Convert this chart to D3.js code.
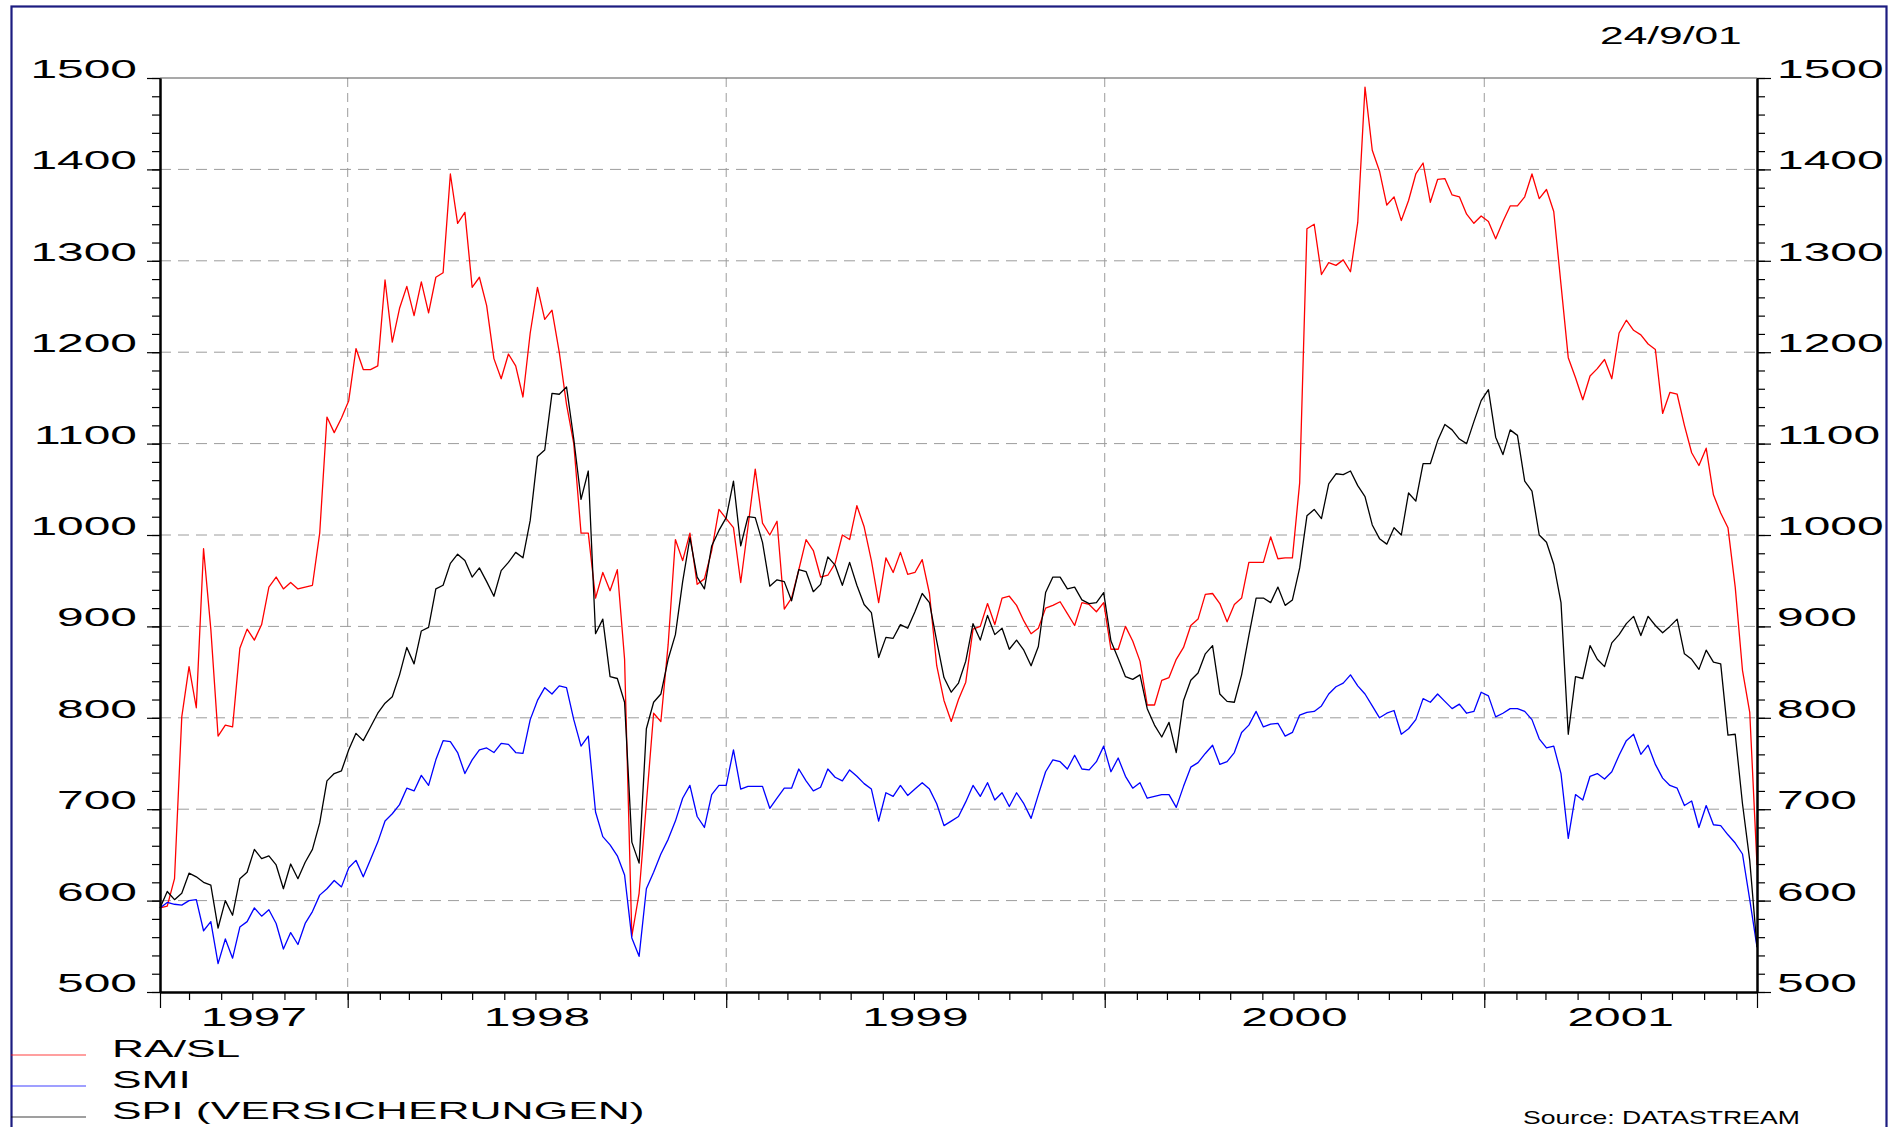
<!DOCTYPE html>
<html><head><meta charset="utf-8">
<script src="https://cdn.jsdelivr.net/npm/d3@7"></script>
<style>
body{margin:0;background:#fff;}
svg{display:block;}
text{font-family:"Liberation Sans",Arial,Helvetica,sans-serif;fill:#000;}
</style>
</head><body>
<svg id="chart" width="1897" height="1127"></svg>
<script>
// ---- data ----
const seriesNames = ["RA/SL", "SMI", "SPI (VERSICHERUNGEN)"];
const seriesColors = ["#ff0000", "#0000ff", "#000000"];
const firstWeek = "1997-07-04";   // weekly observations (Fridays)
const weekCount = 221;
const yTickValues = [500, 600, 700, 800, 900, 1000, 1100, 1200, 1300, 1400, 1500];
const yearLabels = ["1997", "1998", "1999", "2000", "2001"];
const dateStamp = "24/9/01";
const sourceText = "Source: DATASTREAM";

const raSl = [592,594,624,801,856,811,985,897,780,792,790,876,897,885,902,943,954,941,948,941,
943,945,1002,1129,1112,1128,1147,1204,1181,1181,1185,1279,1211,1248,1272,1240,1277,1243,1282,1287,
1395,1341,1353,1271,1282,1251,1193,1171,1198,1185,1151,1221,1271,1236,1246,1200,1143,1100,1002,1002,
931,959,939,962,864,561,608,706,805,796,880,995,972,1002,946,952,983,1028,1018,1008,
948,1009,1072,1013,1000,1015,919,931,962,995,983,954,956,969,1000,995,1032,1009,972,926,
975,959,981,957,959,973,936,857,819,796,820,839,897,900,925,902,931,933,923,906,
892,898,920,923,927,914,901,926,924,916,926,875,875,900,884,862,814,814,841,844,
864,877,901,908,935,936,925,905,924,931,970,970,970,998,974,975,975,1057,1335,1340,
1285,1298,1295,1301,1288,1342,1490,1421,1398,1361,1370,1344,1366,1395,1407,1364,1389,1390,1372,1370,
1351,1341,1349,1343,1324,1343,1360,1360,1370,1395,1368,1378,1354,1274,1194,1172,1148,1174,1182,1192,
1171,1221,1235,1224,1219,1209,1203,1133,1156,1154,1120,1090,1076,1095,1044,1024,1008,943,852,806,639];

const smi = [592,598,596,595,600,601,567,577,531,558,537,571,577,592,583,590,575,547,565,552,
575,588,606,613,622,615,636,644,626,645,664,687,695,705,723,720,737,726,754,775,
774,762,739,754,765,767,762,772,771,762,761,798,819,833,826,835,833,798,769,780,
697,670,661,649,628,559,539,613,631,651,667,687,712,726,692,680,716,726,726,765,
722,725,725,725,701,712,723,723,744,731,720,724,744,735,731,743,736,728,722,687,
718,714,726,715,722,729,722,706,682,687,692,708,726,714,729,710,718,703,718,706,
690,716,741,754,752,744,759,744,743,752,769,741,756,736,723,729,712,714,716,716,
702,725,746,751,761,770,749,752,762,784,792,807,790,793,794,780,784,803,806,807,
813,826,834,838,847,835,826,813,800,805,808,782,788,798,821,817,826,818,810,815,
805,807,828,824,801,805,810,810,807,798,777,767,769,739,668,716,710,736,739,733,
741,759,775,782,760,770,749,734,726,723,704,709,680,704,683,682,672,663,651,601,549];

const spiIns = [592,610,601,608,630,626,620,617,570,600,584,624,631,656,646,649,639,613,640,624,
642,656,685,731,739,742,765,783,775,790,805,816,823,847,877,859,895,899,941,945,
969,979,972,954,964,949,933,961,970,981,975,1016,1086,1093,1155,1154,1162,1105,1039,1070,
892,908,845,843,817,664,641,788,817,826,864,891,949,997,954,941,988,1005,1019,1059,
988,1020,1019,992,944,951,949,928,962,960,938,946,976,967,945,970,945,924,915,866,
888,887,902,898,916,936,926,884,844,828,838,862,903,885,912,891,898,875,885,874,
857,878,937,954,954,941,943,929,925,926,937,884,865,845,842,847,810,792,779,795,
762,819,841,849,870,879,826,818,817,847,890,931,931,926,943,923,929,964,1021,1028,
1018,1056,1067,1066,1070,1054,1042,1011,996,990,1008,1000,1046,1037,1078,1078,1103,1121,1115,1105,
1100,1124,1147,1159,1107,1088,1115,1109,1059,1048,1000,992,968,926,782,845,843,879,864,856,
882,891,903,911,890,911,901,893,900,908,870,864,853,874,861,859,781,782,706,644,549];

const seriesValues = [raSl, smi, spiIns];

// ---- build ----
const parse = d3.timeParse("%Y-%m-%d");
const start = parse(firstWeek);
const dates = d3.range(weekCount).map(i => d3.timeDay.offset(start, 7 * i));

const W = 1897, H = 1127;
const PL = 160, PR = 1757, PT = 78, PB = 992;
const svg = d3.select("#chart");
svg.append("rect").attr("width", W).attr("height", H).attr("fill", "#fff");

const x = d3.scaleTime().domain([dates[0], dates[dates.length - 1]]).range([PL, PR]);
const y = d3.scaleLinear().domain([500, 1500]).range([PB, PT]);

const TX = 1.88; // horizontal stretch of original lettering
function stext(g, px, py, str, size, sx, anchor) {
  return g.append("text")
    .attr("transform", `translate(${px},${py}) scale(${sx},1)`)
    .attr("text-anchor", anchor)
    .style("font-size", size + "px")
    .text(str);
}

// outer frame
svg.append("rect").attr("x", 11.5).attr("y", 6.5).attr("width", 1875).attr("height", 1200)
  .attr("fill", "none").attr("stroke", "#1c1c80").attr("stroke-width", 2.2);

// gridlines
const grid = svg.append("g");
grid.selectAll("line.h").data(yTickValues.filter(v => v > 500 && v < 1500)).join("line")
  .attr("x1", PL).attr("x2", PR).attr("y1", d => y(d)).attr("y2", d => y(d))
  .attr("stroke", "#9c9c9c").attr("stroke-width", 1).attr("stroke-dasharray", "11,7");
const yearStarts = d3.timeYear.range(d3.timeYear.ceil(x.domain()[0]), x.domain()[1]);
grid.selectAll("line.v").data(yearStarts).join("line")
  .attr("x1", d => x(d)).attr("x2", d => x(d)).attr("y1", PT).attr("y2", PB)
  .attr("stroke", "#9c9c9c").attr("stroke-width", 1).attr("stroke-dasharray", "9,6");

// series
const line = d3.line().x((d, i) => x(dates[i])).y(d => y(d));
seriesValues.forEach((vals, k) => {
  svg.append("path").datum(vals).attr("d", line)
    .attr("fill", "none").attr("stroke", seriesColors[k]).attr("stroke-width", 1.3)
    .attr("stroke-linejoin", "round");
});

// plot box
svg.append("line").attr("x1", PL).attr("x2", PR).attr("y1", PT).attr("y2", PT)
  .attr("stroke", "#555").attr("stroke-width", 1.2);

// y axes (ticks)
const minorY = d3.range(500, 1501, 20);
const axL = svg.append("g").attr("transform", `translate(${PL},0)`)
  .call(d3.axisLeft(y).tickValues(minorY).tickSize(8).tickFormat("").tickSizeOuter(0));
const axL2 = svg.append("g").attr("transform", `translate(${PL},0)`)
  .call(d3.axisLeft(y).tickValues(yTickValues).tickSize(13).tickFormat("").tickSizeOuter(0));
const axR = svg.append("g").attr("transform", `translate(${PR},0)`)
  .call(d3.axisRight(y).tickValues(minorY).tickSize(8).tickFormat("").tickSizeOuter(0));
const axR2 = svg.append("g").attr("transform", `translate(${PR},0)`)
  .call(d3.axisRight(y).tickValues(yTickValues).tickSize(14).tickFormat("").tickSizeOuter(0));

// x axis ticks
const monthTicks = d3.timeMonth.range(d3.timeMonth.ceil(x.domain()[0]), x.domain()[1]);
const axB = svg.append("g").attr("transform", `translate(0,${PB})`)
  .call(d3.axisBottom(x).tickValues(monthTicks).tickSize(8).tickFormat("").tickSizeOuter(0));
const majorX = [x.domain()[0], ...yearStarts, x.domain()[1]];
const axB2 = svg.append("g").attr("transform", `translate(0,${PB})`)
  .call(d3.axisBottom(x).tickValues(majorX).tickSize(16).tickFormat("").tickSizeOuter(0));

[axL, axL2, axR, axR2, axB, axB2].forEach(a => {
  a.select(".domain").attr("stroke", "#000").attr("stroke-width", 2);
  a.selectAll(".tick line").attr("stroke", "#000").attr("stroke-width", 1.2);
});

// y labels
const labels = svg.append("g");
yTickValues.forEach(v => {
  stext(labels, 137, y(v), String(v), 25.5, TX, "end");
  stext(labels, 1777, y(v), String(v), 25.5, TX, "start");
});

// year labels centered over each (visible) year span
yearLabels.forEach(yr => {
  const a = d3.max([parse(yr + "-01-01"), x.domain()[0]]);
  const b = d3.min([parse((+yr + 1) + "-01-01"), x.domain()[1]]);
  stext(labels, (x(a) + x(b)) / 2, 1026, yr, 26, 1.84, "middle");
});

// date stamp
stext(labels, 1600, 44, dateStamp, 24, 1.77, "start");

// legend
const legY = [1055, 1086, 1117];
seriesNames.forEach((n, k) => {
  svg.append("line").attr("x1", 11).attr("x2", 86).attr("y1", legY[k]).attr("y2", legY[k])
    .attr("stroke", seriesColors[k]).attr("stroke-width", 1.2).attr("opacity", 0.75);
  stext(labels, 112, legY[k] + 2, n, 24, 1.85, "start");
});

// source (kept fully inside the picture)
stext(labels, 1523, 1124, sourceText, 19, 1.4, "start");
</script>
</body></html>
